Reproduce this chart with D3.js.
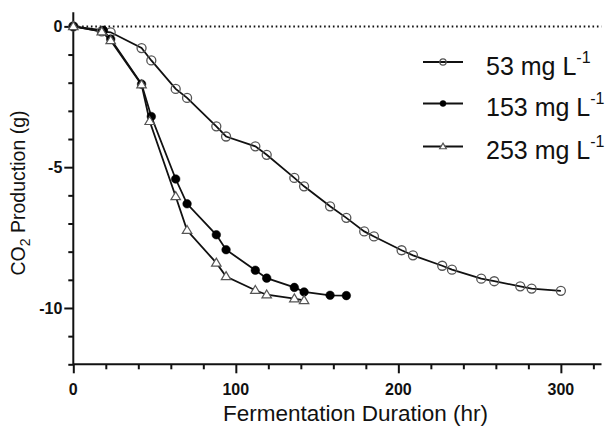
<!DOCTYPE html>
<html>
<head>
<meta charset="utf-8">
<script src="https://cdn.jsdelivr.net/npm/d3@7"></script>
<style>
  html, body { margin: 0; padding: 0; background: #fff; }
  svg { display: block; font-family: "Liberation Sans", Arial, sans-serif; }
</style>
</head>
<body>
<svg id="chart" width="613" height="429"></svg>
<script>
// Fermentation time points (hr) and cumulative CO2 change (g) per dose
const hours53 = [0, 17.5, 23, 42, 48, 63, 70, 88, 94, 112, 119, 136, 142, 158, 168, 179, 185, 202, 209, 227, 233, 251, 259, 275, 282, 300];
const co2_53  = [0, -0.18, -0.21, -0.77, -1.21, -2.22, -2.54, -3.55, -3.91, -4.26, -4.56, -5.38, -5.68, -6.39, -6.80, -7.28, -7.46, -7.95, -8.13, -8.50, -8.64, -8.96, -9.05, -9.23, -9.31, -9.39];

const hours153 = [0, 18.5, 23, 42, 48, 63, 70, 88, 94, 112, 119, 136, 142, 158, 168];
const co2_153  = [0, -0.14, -0.45, -2.05, -3.20, -5.42, -6.30, -7.40, -7.93, -8.66, -8.94, -9.27, -9.43, -9.55, -9.56];

const hours253 = [0, 17.5, 23, 42, 47, 63, 70, 88, 94, 112, 119, 136, 142];
const co2_253  = [0, -0.19, -0.50, -2.07, -3.37, -6.04, -7.24, -8.40, -8.88, -9.37, -9.53, -9.67, -9.73];

const seriesNames = ["53", "153", "253"];
const xTicks = [0, 100, 200, 300];
const yTicks = [0, -5, -10];

const svg = d3.select("#chart");
const x = d3.scaleLinear().domain([0, 325]).range([73.3, 601.5]);
const y = d3.scaleLinear().domain([-12, 0.5]).range([364.3, 12.3]);

const series = [
  { name: seriesNames[0], pts: hours53.map((h, i) => [h, co2_53[i]]), marker: "openCircle" },
  { name: seriesNames[1], pts: hours153.map((h, i) => [h, co2_153[i]]), marker: "dot" },
  { name: seriesNames[2], pts: hours253.map((h, i) => [h, co2_253[i]]), marker: "triangle" }
];

// zero reference line
svg.append("line")
  .attr("x1", x(0)).attr("x2", x(325))
  .attr("y1", y(0)).attr("y2", y(0))
  .attr("stroke", "#111").attr("stroke-width", 2)
  .attr("stroke-dasharray", "1.6,2.8");

// x axis
const xAxisG = svg.append("g").attr("transform", `translate(0,${y(-12)})`);
xAxisG.call(d3.axisBottom(x).tickValues(d3.range(0, 321, 20)).tickSize(5).tickFormat(""));
xAxisG.call(g => g.selectAll(".tick line").filter(d => d % 100 === 0).attr("y2", 9));
xAxisG.selectAll("path, line").attr("stroke", "#111").attr("stroke-width", 2);
xAxisG.select(".domain").attr("d", `M${x(0)},0H${x(325)}`);
xAxisG.selectAll(".xlab").data(xTicks).enter().append("text")
  .attr("x", d => x(d)).attr("y", 30.5)
  .attr("text-anchor", "middle")
  .attr("font-size", 16).attr("font-weight", "bold").attr("fill", "#111")
  .text(d => d);

// y axis
const yAxisG = svg.append("g").attr("transform", `translate(${x(0)},0)`);
yAxisG.call(d3.axisLeft(y).tickValues(d3.range(-12, 0.5, 1)).tickSize(5).tickFormat(""));
yAxisG.call(g => g.selectAll(".tick line").filter(d => d % 5 === 0).attr("x2", -9));
yAxisG.selectAll("path, line").attr("stroke", "#111").attr("stroke-width", 2);
yAxisG.select(".domain").attr("d", `M0,${y(0.5)}V${y(-12)}`);
yAxisG.selectAll(".ylab").data(yTicks).enter().append("text")
  .attr("x", -11).attr("y", d => y(d)).attr("dy", "0.35em")
  .attr("text-anchor", "end")
  .attr("font-size", 16).attr("font-weight", "bold").attr("fill", "#111")
  .text(d => d === 0 ? "0" : "-" + Math.abs(d));

// axis titles
svg.append("text")
  .attr("x", 355.5).attr("y", 421)
  .attr("text-anchor", "middle").attr("font-size", 22.5).attr("fill", "#111")
  .text("Fermentation Duration (hr)");

const yTitle = svg.append("text")
  .attr("transform", `translate(25,193) rotate(-90)`)
  .attr("text-anchor", "middle").attr("font-size", 19.5).attr("fill", "#111");
yTitle.append("tspan").text("CO");
yTitle.append("tspan").attr("font-size", 14).attr("dy", 5).text("2");
yTitle.append("tspan").attr("dy", -5).text(" Production (g)");

// lines
const line = d3.line().x(d => x(d[0])).y(d => y(d[1]));
svg.selectAll(".series-line").data(series).enter().append("path")
  .attr("fill", "none").attr("stroke", "#111").attr("stroke-width", 1.8)
  .attr("d", d => line(d.pts));

function drawMarker(g, type, cx, cy, s) {
  if (type === "openCircle") {
    g.append("circle").attr("cx", cx).attr("cy", cy).attr("r", 4.5 * s)
      .attr("fill", "none").attr("stroke", "#555").attr("stroke-width", 1.3);
  } else if (type === "dot") {
    g.append("circle").attr("cx", cx).attr("cy", cy).attr("r", 4.3 * s)
      .attr("fill", "#000").attr("stroke", "#000").attr("stroke-width", 0.5);
  } else {
    const h = 8 * s, w = 9.5 * s;
    g.append("path")
      .attr("d", `M${cx},${cy - h * 0.6}L${cx + w / 2},${cy + h * 0.4}L${cx - w / 2},${cy + h * 0.4}Z`)
      .attr("fill", "#fff").attr("stroke", "#555").attr("stroke-width", 1.2);
  }
}

series.forEach(sr => {
  const g = svg.append("g");
  sr.pts.forEach(p => drawMarker(g, sr.marker, x(p[0]), y(p[1]), 1));
});

// legend
const legendRows = [62, 103.5, 146.5];
series.forEach((sr, i) => {
  const g = svg.append("g");
  const ly = legendRows[i];
  g.append("line").attr("x1", 423).attr("x2", 463).attr("y1", ly).attr("y2", ly)
    .attr("stroke", "#111").attr("stroke-width", 1.8);
  drawMarker(g, sr.marker, 443, ly, 0.7);
  const t = g.append("text").attr("x", 486).attr("y", ly + 12.5)
    .attr("font-size", 25).attr("fill", "#111");
  t.append("tspan").text(sr.name + " mg L");
  t.append("tspan").attr("font-size", 16).attr("dy", -12).text("-1");
});
</script>
</body>
</html>
